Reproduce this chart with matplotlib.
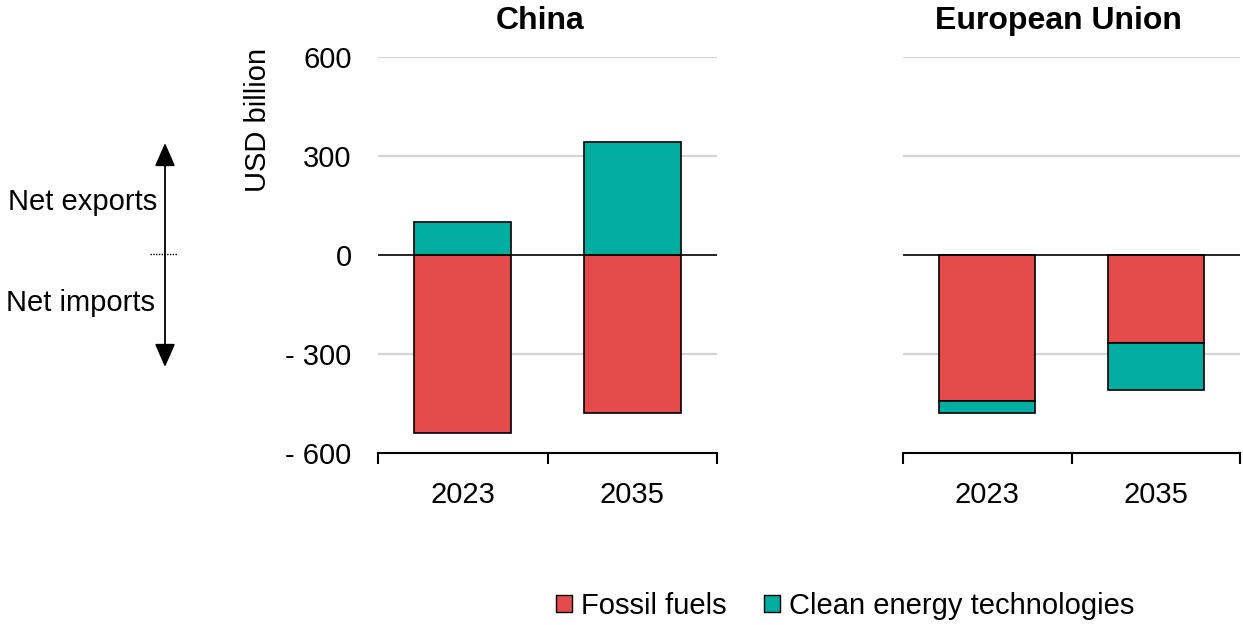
import matplotlib.pyplot as plt
from matplotlib.patches import Patch

plt.rcParams['font.family'] = ['Liberation Sans', 'DejaVu Sans']

years = ["2023", "2035"]
regions = ["China", "European Union"]
fossil = {"China": [-540, -480], "European Union": [-443, -267]}
clean = {"China": [100, 342], "European Union": [-36, -142]}

RED = "#E34C4A"
TEAL = "#00ADA1"
GRID = "#D4D4D4"
FS = 21

fig = plt.figure(figsize=(12.43, 6.25), dpi=100)
ax1 = fig.add_axes([378/1243, 1-453/625, 339/1243, 396/625])
ax2 = fig.add_axes([903/1243, 1-453/625, 337/1243, 396/625])

title_x = {"China": 0.478, "European Union": 0.46}
for ax, reg in zip([ax1, ax2], regions):
    x = range(len(years))
    f = fossil[reg]
    c = clean[reg]
    # clean stacks on the same side as its sign
    cb = [0 if cv > 0 else fv for cv, fv in zip(c, f)]
    ax.bar(x, f, width=0.57, color=RED, edgecolor="black", linewidth=1.2, zorder=3)
    ax.bar(x, c, bottom=cb, width=0.57, color=TEAL, edgecolor="black", linewidth=1.2, zorder=3)
    ax.set_xlim(-0.5, 1.5)
    ax.set_ylim(-600, 600)
    ax.set_yticks([-600, -300, 0, 300, 600])
    for yv in [-300, 300, 600]:
        ax.axhline(yv, color=GRID, linewidth=1.6, zorder=1)
    ax.axhline(0, color="black", linewidth=1.2, zorder=4)
    for s in ["top", "right", "left"]:
        ax.spines[s].set_visible(False)
    ax.spines["bottom"].set_linewidth(1.5)
    ax.set_xticks([-0.5, 0.5, 1.5])
    ax.set_xticklabels([])
    ax.set_xticks([0, 1], minor=True)
    ax.set_xticklabels(years, minor=True)
    ax.tick_params(axis="x", which="major", length=8, width=1.5, direction="out")
    ax.tick_params(axis="x", which="minor", length=0, labelsize=FS, pad=20)
    ax.tick_params(axis="y", length=0, labelsize=FS, pad=19)
    ax.set_title(reg, fontsize=23, fontweight="bold", x=title_x[reg], pad=20)

ax1.set_yticklabels(["- 600", "- 300", "0", "300", "600"])
ax2.set_yticklabels([])

fig.text(258/1243, 1-120/625, "USD billion", rotation=90, fontsize=FS,
         ha="center", va="center")

# net exports / imports annotation
fig.text(157/1243, 1-202/625, "Net exports", fontsize=FS, ha="right", va="center")
fig.text(155/1243, 1-303/625, "Net imports", fontsize=FS, ha="right", va="center")
fig.add_artist(plt.Line2D([150/1243, 177/1243], [1-254/625, 1-254/625],
                          color="black", linestyle=(0, (1, 1)), linewidth=1))
ax1.annotate("", xy=(165/1243, 1-143/625), xytext=(165/1243, 1-367/625),
             xycoords="figure fraction", textcoords="figure fraction",
             arrowprops=dict(arrowstyle="<|-|>,head_length=0.8,head_width=0.35",
                             color="black", lw=1.3,
                             mutation_scale=18, shrinkA=0, shrinkB=0))

handles = [Patch(facecolor=RED, edgecolor="black", label="Fossil fuels"),
           Patch(facecolor=TEAL, edgecolor="black", label="Clean energy technologies")]
fig.legend(handles=handles, loc="center", bbox_to_anchor=(845/1243, 1-606/625),
           ncol=2, frameon=False, fontsize=FS, handlelength=0.55, handleheight=0.55,
           handletextpad=0.3, columnspacing=1.3)

fig.savefig("out.png", dpi=100)
